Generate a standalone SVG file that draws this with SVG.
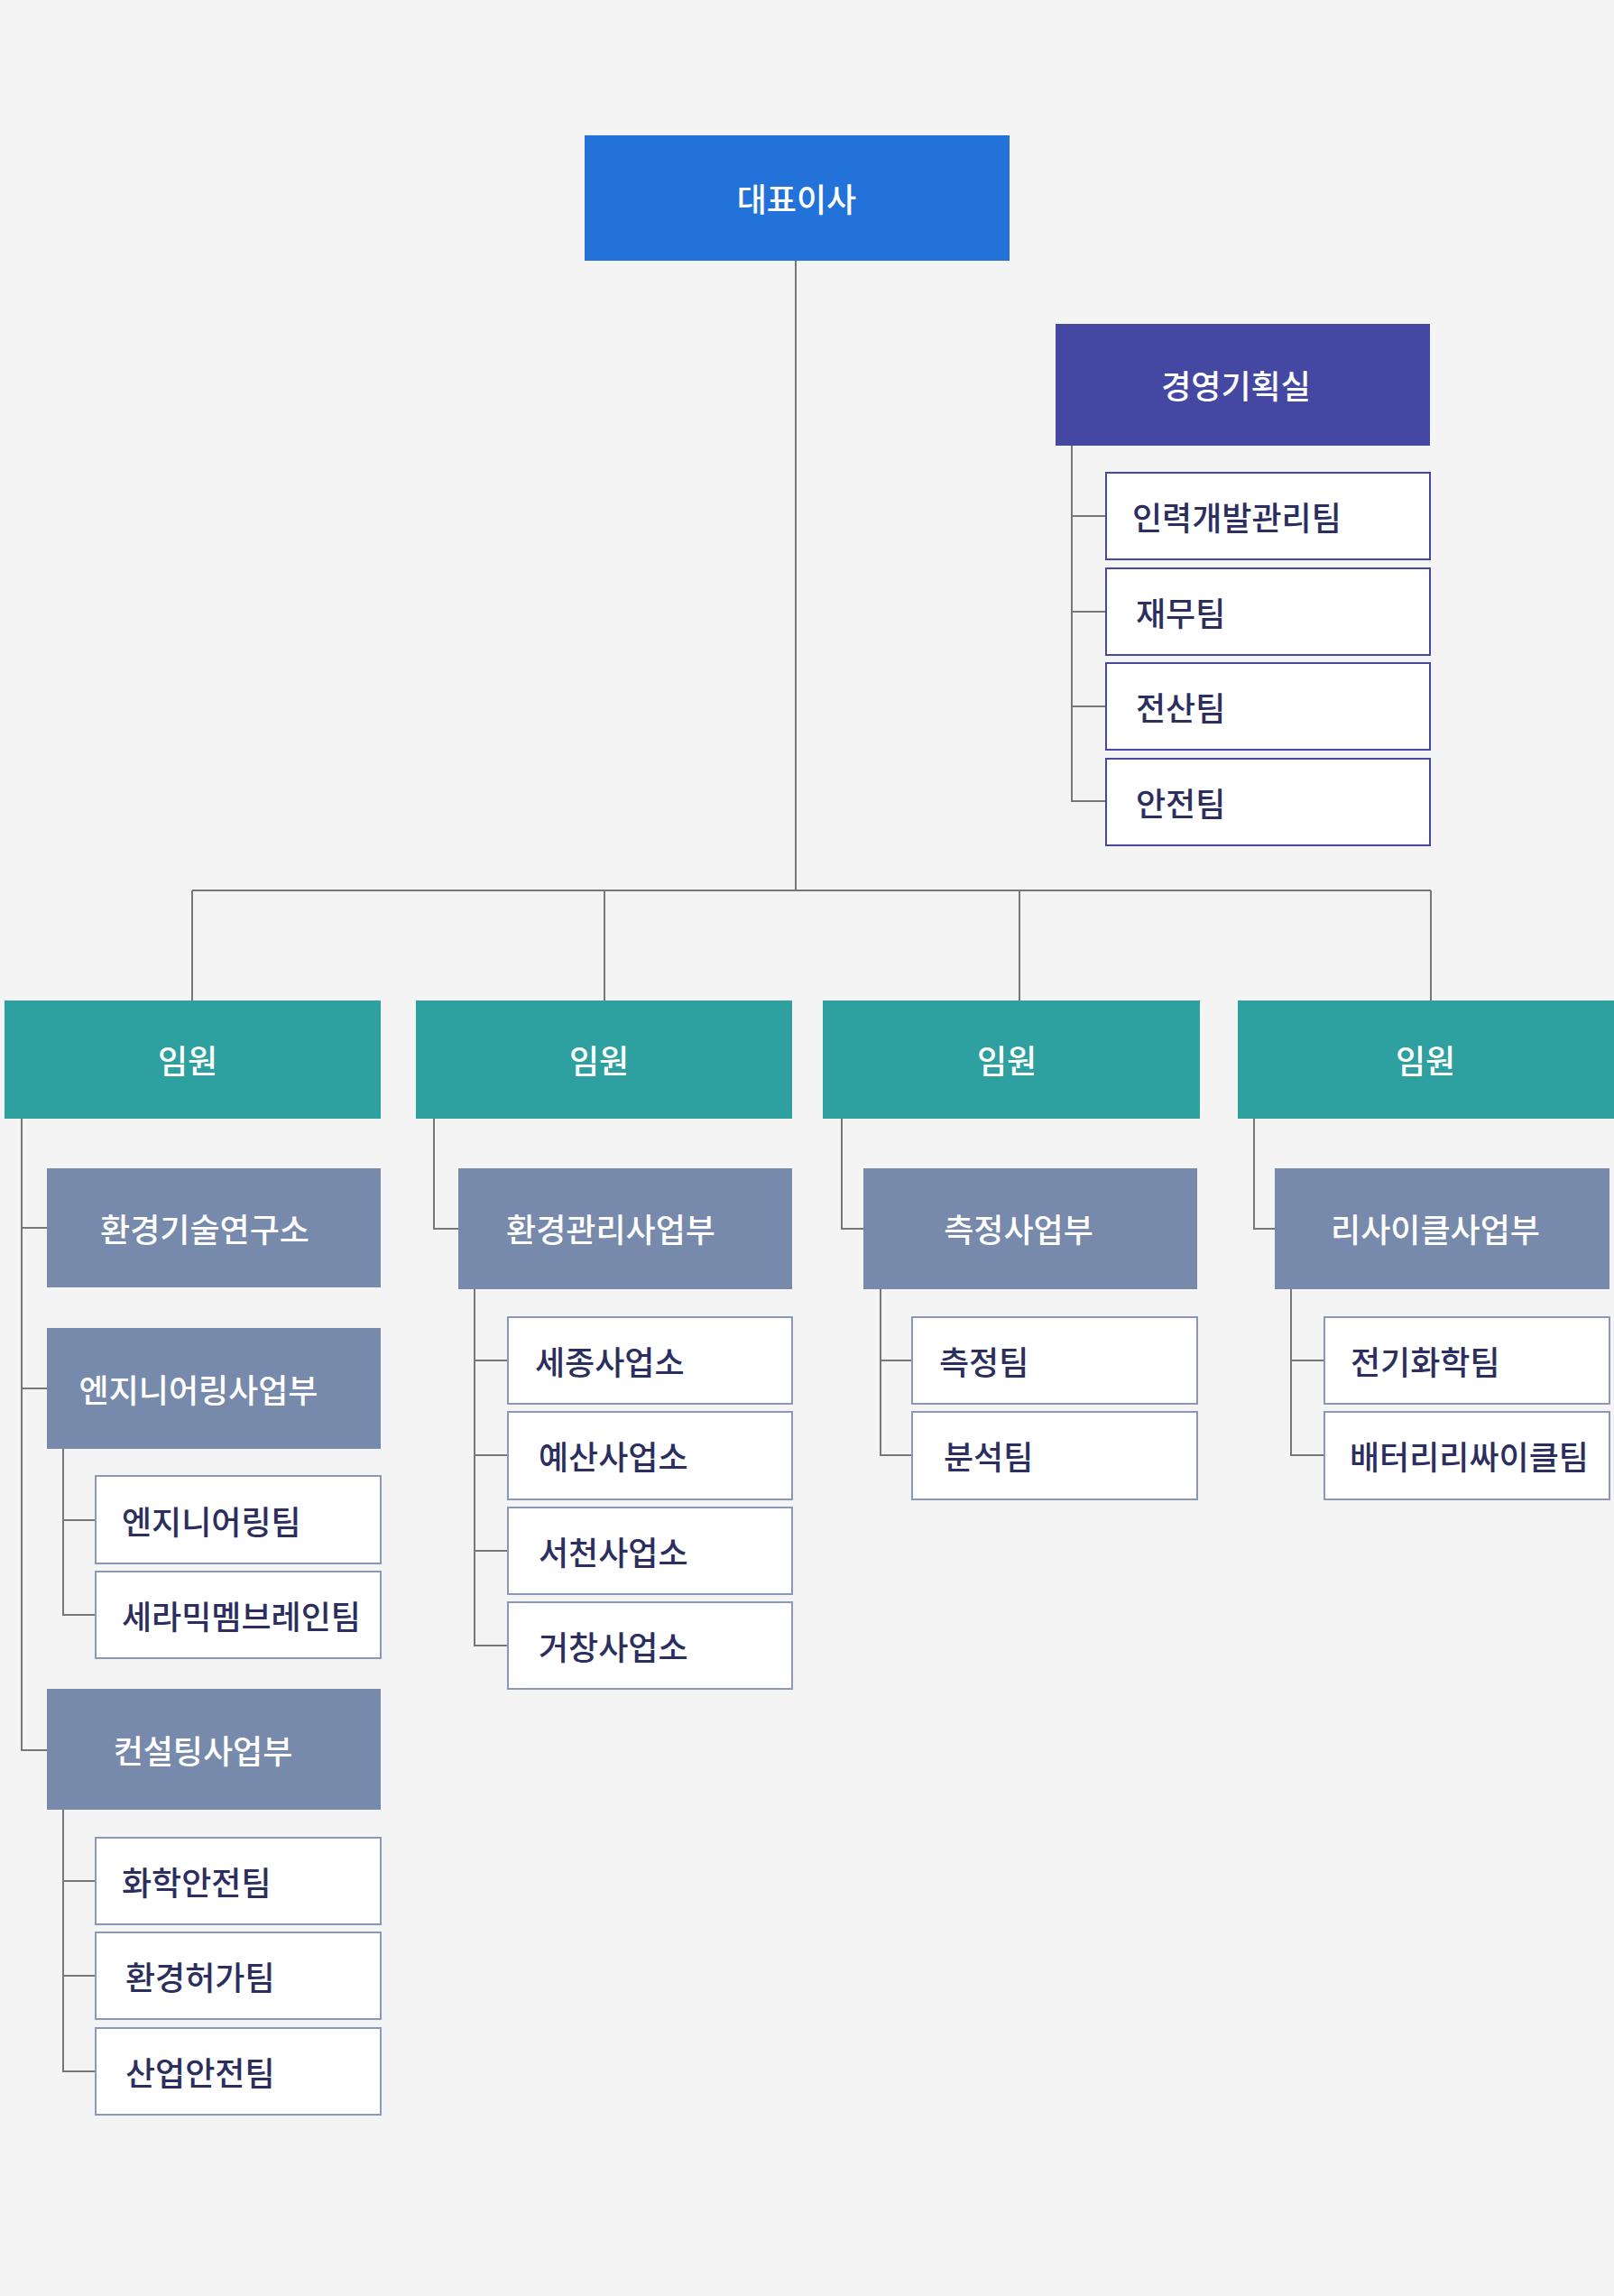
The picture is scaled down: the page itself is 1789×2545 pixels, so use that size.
<svg xmlns="http://www.w3.org/2000/svg" width="1789" height="2545" viewBox="0 0 1789 2545">
<style>
text{font-family:"Noto Sans CJK KR","Noto Sans",sans-serif;font-size:36px;dominant-baseline:central}
.w{fill:#fff;text-anchor:middle;font-weight:500}
.t{fill:#2b2e5e;font-weight:500}
.tb{fill:#fff;stroke:#8a97b8;stroke-width:2}
.tp{fill:#fff;stroke:#4548a3;stroke-width:2}
.d{fill:#778aac}
.e{fill:#2ea09f}
#conn path{fill:none;stroke:#777;stroke-width:2}
</style>
<rect width="1789" height="2545" fill="#f4f4f4"/>
<g id="conn">
<path d="M882 289V987M213 987H1586M213 987V1109M670 987V1109M1130 987V1109M1586 987V1109"/>
<path d="M1188 494V888H1226M1188 572H1226M1188 678H1226M1188 783H1226"/>
<path d="M24 1240V1940H52M24 1361H52M24 1539H52"/>
<path d="M70 1606V1790H106M70 1685H106"/>
<path d="M70 2006V2296H106M70 2085H106M70 2190H106"/>
<path d="M481 1240V1362H508"/>
<path d="M526 1429V1824H563M526 1508H563M526 1613H563M526 1719H563"/>
<path d="M933 1240V1362H957"/>
<path d="M976 1429V1613H1011M976 1508H1011"/>
<path d="M1390 1240V1362H1413"/>
<path d="M1431 1429V1613H1468M1431 1508H1468"/>
</g>
<g id="ceo"><rect x="648" y="150" width="471" height="139" fill="#2272d9"/><text class="w" x="883" y="219" font-size="38">대표이사</text></g>
<g id="plan"><rect x="1170" y="359" width="415" height="135" fill="#4548a3"/><text class="w" x="1370" y="426" font-size="40">경영기획실</text></g>
<g id="p1"><rect class="tp" x="1226" y="524" width="359" height="96"/><text class="t" x="1255" y="572">인력개발관리팀</text></g>
<g id="p2"><rect class="tp" x="1226" y="630" width="359" height="96"/><text class="t" x="1259" y="678">재무팀</text></g>
<g id="p3"><rect class="tp" x="1226" y="735" width="359" height="96"/><text class="t" x="1259" y="783">전산팀</text></g>
<g id="p4"><rect class="tp" x="1226" y="841" width="359" height="96"/><text class="t" x="1259" y="889">안전팀</text></g>
<g id="ex1"><rect class="e" x="5" y="1109" width="417" height="131"/><text class="w" x="208" y="1174" font-size="40">임원</text></g>
<g id="ex2"><rect class="e" x="461" y="1109" width="417" height="131"/><text class="w" x="664" y="1174" font-size="40">임원</text></g>
<g id="ex3"><rect class="e" x="912" y="1109" width="418" height="131"/><text class="w" x="1116" y="1174" font-size="40">임원</text></g>
<g id="ex4"><rect class="e" x="1372" y="1109" width="417" height="131"/><text class="w" x="1580" y="1174" font-size="40">임원</text></g>
<g id="d1"><rect class="d" x="52" y="1295" width="370" height="132"/><text class="w" x="227" y="1361">환경기술연구소</text></g>
<g id="d2"><rect class="d" x="52" y="1472" width="370" height="134"/><text class="w" x="220" y="1539">엔지니어링사업부</text></g>
<g id="d3"><rect class="d" x="52" y="1872" width="370" height="134"/><text class="w" x="225" y="1939">컨설팅사업부</text></g>
<g id="d4"><rect class="d" x="508" y="1295" width="370" height="134"/><text class="w" x="677" y="1361">환경관리사업부</text></g>
<g id="d5"><rect class="d" x="957" y="1295" width="370" height="134"/><text class="w" x="1129" y="1361">측정사업부</text></g>
<g id="d6"><rect class="d" x="1413" y="1295" width="371" height="134"/><text class="w" x="1591" y="1361">리사이클사업부</text></g>
<g id="t1"><rect class="tb" x="106" y="1636" width="316" height="97"/><text class="t" x="135" y="1685">엔지니어링팀</text></g>
<g id="t2"><rect class="tb" x="106" y="1742" width="316" height="96"/><text class="t" x="135" y="1790">세라믹멤브레인팀</text></g>
<g id="t3"><rect class="tb" x="106" y="2037" width="316" height="96"/><text class="t" x="135" y="2085">화학안전팀</text></g>
<g id="t4"><rect class="tb" x="106" y="2142" width="316" height="96"/><text class="t" x="139" y="2190">환경허가팀</text></g>
<g id="t5"><rect class="tb" x="106" y="2248" width="316" height="96"/><text class="t" x="139" y="2296">산업안전팀</text></g>
<g id="t6"><rect class="tb" x="563" y="1460" width="315" height="96"/><text class="t" x="593" y="1508">세종사업소</text></g>
<g id="t7"><rect class="tb" x="563" y="1565" width="315" height="97"/><text class="t" x="597" y="1613">예산사업소</text></g>
<g id="t8"><rect class="tb" x="563" y="1671" width="315" height="96"/><text class="t" x="597" y="1719">서천사업소</text></g>
<g id="t9"><rect class="tb" x="563" y="1776" width="315" height="96"/><text class="t" x="597" y="1824">거창사업소</text></g>
<g id="t10"><rect class="tb" x="1011" y="1460" width="316" height="96"/><text class="t" x="1041" y="1508">측정팀</text></g>
<g id="t11"><rect class="tb" x="1011" y="1565" width="316" height="97"/><text class="t" x="1046" y="1613">분석팀</text></g>
<g id="t12"><rect class="tb" x="1468" y="1460" width="316" height="96"/><text class="t" x="1497" y="1508">전기화학팀</text></g>
<g id="t13"><rect class="tb" x="1468" y="1565" width="316" height="97"/><text class="t" x="1496" y="1613">배터리리싸이클팀</text></g>
</svg>
